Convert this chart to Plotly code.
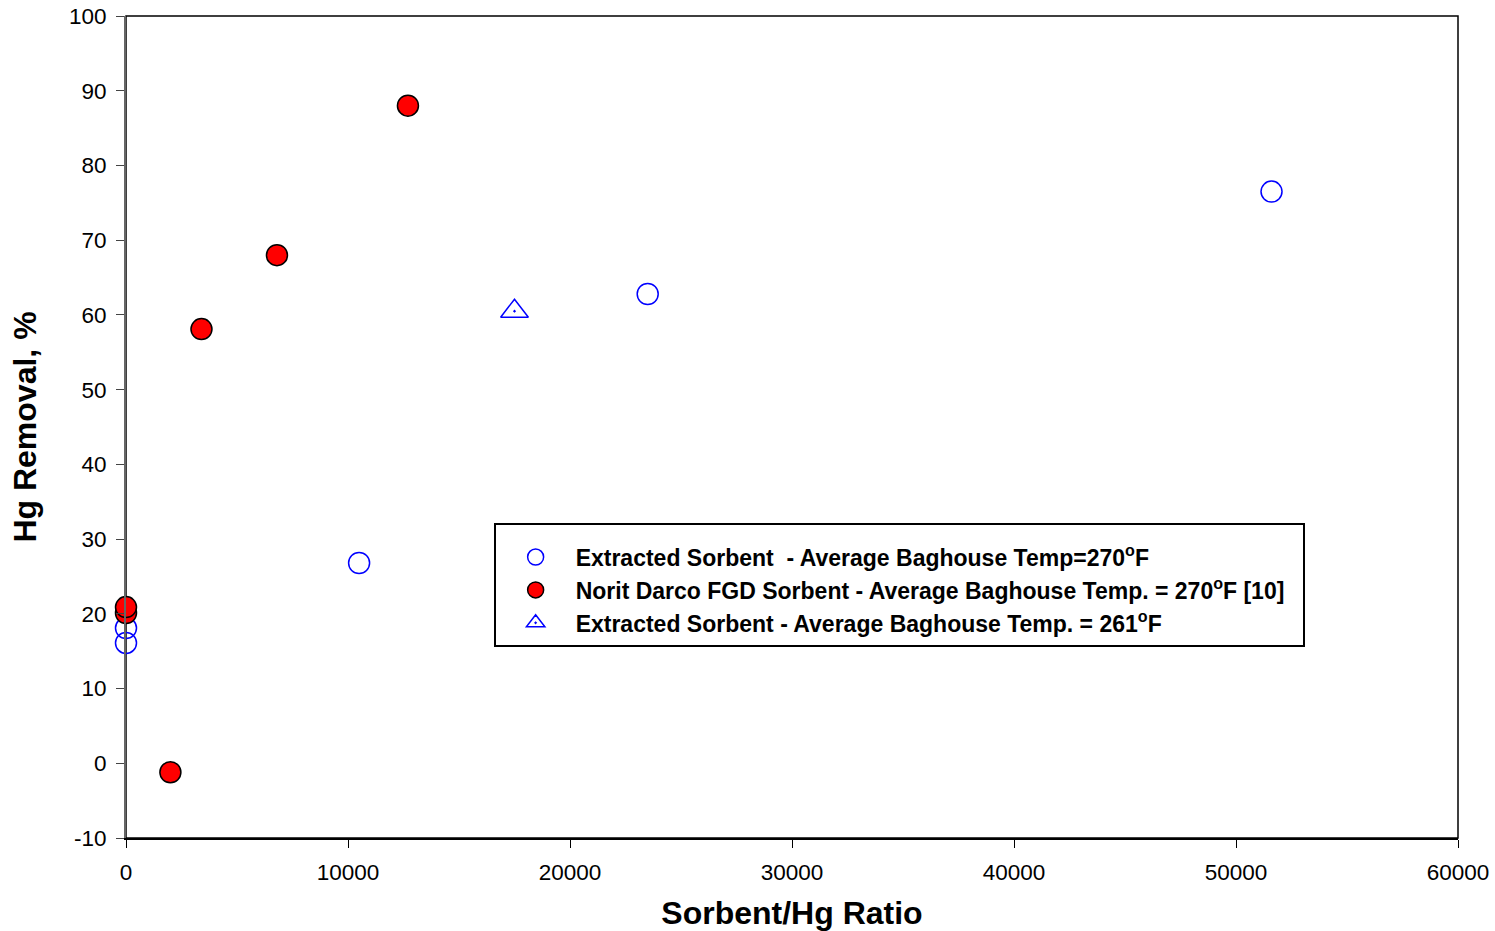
import plotly.graph_objects as go

# Data
ext270_x = [0, 0, 10500, 23500, 51600]
ext270_y = [18.1, 16.1, 26.8, 62.8, 76.5]

norit_x = [0, 0, 2000, 3400, 6800, 12700]
norit_y = [20.1, 20.9, -1.2, 58.1, 68.0, 88.0]

ext261_x = [17500]
ext261_y = [60.5]

x_ticks = [0, 10000, 20000, 30000, 40000, 50000, 60000]
y_ticks = [-10, 0, 10, 20, 30, 40, 50, 60, 70, 80, 90, 100]

FONT = "Liberation Sans, Arial, sans-serif"

fig = go.Figure()
fig.add_trace(go.Scatter(
    x=ext270_x, y=ext270_y, mode="markers", legendgroup="a", cliponaxis=False,
    name="<b>Extracted Sorbent  - Average Baghouse Temp=270<sup>o</sup>F</b>",
    marker=dict(symbol="circle-open", size=21, color="#0000ff", line=dict(width=1.5, color="#0000ff")),
))
fig.add_trace(go.Scatter(
    x=norit_x, y=norit_y, mode="markers", legendgroup="b", cliponaxis=False,
    name="<b>Norit Darco FGD Sorbent - Average Baghouse Temp. = 270<sup>o</sup>F [10]</b>&nbsp;&nbsp;",
    marker=dict(symbol="circle", size=21, color="#ff0000", line=dict(width=1.5, color="#000000")),
))
fig.add_trace(go.Scatter(
    x=ext261_x, y=ext261_y, mode="markers", legendgroup="c", cliponaxis=False,
    name="<b>Extracted Sorbent - Average Baghouse Temp. = 261<sup>o</sup>F</b>",
    marker=dict(symbol="triangle-up-open-dot", size=24, color="#0000ff", line=dict(width=1.5, color="#0000ff")),
))

# frame (top/right black)
fig.add_shape(type="rect", xref="paper", yref="paper", x0=0, y0=0, x1=1, y1=1,
              line=dict(color="black", width=1.5), layer="below")

fig.update_layout(
    width=1495, height=931,
    margin=dict(l=126, r=37, t=16, b=93, autoexpand=False),
    paper_bgcolor="white", plot_bgcolor="white",
    font=dict(family=FONT, size=22, color="black"),
    showlegend=True,
    legend=dict(
        x=0.276, y=0.383, xanchor="left", yanchor="top",
        bordercolor="black", borderwidth=2, bgcolor="white",
        font=dict(family=FONT, size=23, color="black"),
        itemwidth=70, tracegroupgap=0,
        title=dict(text=" ", font=dict(size=8)),
    ),
    xaxis=dict(
        range=[0, 60000], tickvals=x_ticks, ticktext=[str(v) for v in x_ticks],
        showgrid=False, zeroline=False, showline=True, linecolor="black", linewidth=1.5,
        ticks="outside", ticklen=8, tickcolor="black", automargin=False,
        ticklabelstandoff=5,
        title=dict(text="<b>Sorbent/Hg Ratio</b>", font=dict(size=32, family=FONT), standoff=18),
        tickfont=dict(size=22.5, family=FONT),
    ),
    yaxis=dict(
        range=[-10, 100], tickvals=y_ticks, ticktext=[str(v) for v in y_ticks],
        showgrid=False, zeroline=False, showline=True, linecolor="#666666", linewidth=2,
        ticks="outside", ticklen=8, tickcolor="#444444", automargin=False,
        ticklabelstandoff=5,
        title=dict(text="<b>Hg Removal, %</b>", font=dict(size=32, family=FONT), standoff=23),
        tickfont=dict(size=22.5, family=FONT),
    ),
)

fig.write_html("out.html", config={"displayModeBar": False},
               post_script="document.body.style.margin='0';document.body.style.overflow='hidden';")
